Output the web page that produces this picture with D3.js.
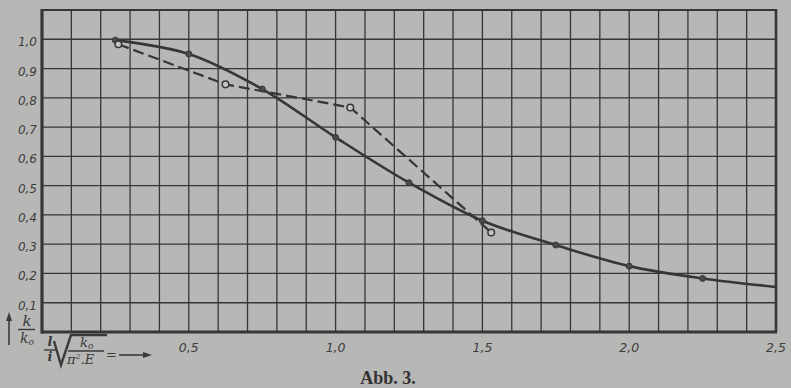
<!DOCTYPE html>
<html>
<head>
<meta charset="utf-8">
<script src="https://cdn.jsdelivr.net/npm/d3@7"></script>
<style>
  body { margin:0; background:#b7b7b5; }
  svg { display:block; }
</style>
</head>
<body>
<script>
const width = 791;
const height = 388;
const margin = {top:10, right:15, bottom:56, left:42};

// solid curve, filled dots
const solidX = [0.25, 0.5, 0.75, 1.0, 1.25, 1.5, 1.75, 2.0, 2.25];
const solidY = [0.997, 0.95, 0.83, 0.665, 0.51, 0.38, 0.297, 0.225, 0.183];
// the curve runs on to the right edge without a dot
const solidEndX = 2.5;
const solidEndY = 0.154;

// dashed line, open circles
const dashX = [0.26, 0.625, 1.05, 1.53];
const dashY = [0.983, 0.846, 0.767, 0.34];

const xTicks = [0.5, 1.0, 1.5, 2.0, 2.5];
const yTicks = [0.1, 0.2, 0.3, 0.4, 0.5, 0.6, 0.7, 0.8, 0.9, 1.0];

const ink = "#363636";
const fmt = d => d3.format(".1f")(d).replace(".", ",");

const svg = d3.select("body").append("svg")
.attr("width",width)
.attr("height",height);

svg.append("rect")
.attr("width",width)
.attr("height",height)
.attr("fill","#b7b7b5");

const x = d3.scaleLinear().domain([0,2.5]).range([margin.left,width-margin.right]);
const y = d3.scaleLinear().domain([0,1.1]).range([height-margin.bottom,margin.top]);

// grid, every 0.1
const grid = svg.append("g").attr("class","grid");
grid.selectAll(".vline")
.data(d3.range(1,25).map(i=>i/10))
.join("line")
.attr("class","vline")
.attr("x1",d=>x(d)).attr("x2",d=>x(d))
.attr("y1",y(1.1)).attr("y2",y(0))
.attr("stroke",ink).attr("stroke-width",1.3);

grid.selectAll(".hline")
.data(d3.range(1,11).map(i=>i/10))
.join("line")
.attr("class","hline")
.attr("x1",x(0)).attr("x2",x(2.5))
.attr("y1",d=>y(d)).attr("y2",d=>y(d))
.attr("stroke",ink).attr("stroke-width",1.3);

// frame
svg.append("line").attr("x1",x(0)).attr("x2",x(2.5)).attr("y1",y(1.1)).attr("y2",y(1.1))
.attr("stroke",ink).attr("stroke-width",2.2);
svg.append("line").attr("x1",x(2.5)).attr("x2",x(2.5)).attr("y1",y(1.1)-1).attr("y2",y(0))
.attr("stroke",ink).attr("stroke-width",2.6);
svg.append("line").attr("x1",x(0)-1).attr("x2",x(2.5)+1).attr("y1",y(0)).attr("y2",y(0))
.attr("stroke",ink).attr("stroke-width",3.2);
svg.append("line").attr("x1",x(0)).attr("x2",x(0)).attr("y1",y(1.1)-1).attr("y2",y(0)+1.5)
.attr("stroke",ink).attr("stroke-width",3.2);

// tick labels
svg.append("g").selectAll("text")
.data(yTicks)
.join("text")
.attr("x",x(0)-5)
.attr("y",d=>y(d)+7)
.attr("text-anchor","end")
.attr("font-family","DejaVu Sans, sans-serif")
.attr("font-style","italic")
.attr("font-size","12px")
.attr("fill","#3e3e3e")
.text(fmt);

svg.append("g").selectAll("text")
.data(xTicks)
.join("text")
.attr("x",d=>x(d))
.attr("y",y(0)+20)
.attr("text-anchor","middle")
.attr("font-family","DejaVu Sans, sans-serif")
.attr("font-style","italic")
.attr("font-size","12.5px")
.attr("fill","#3e3e3e")
.text(fmt);

// solid curve
const solidPts = solidX.map((d,i)=>[d, solidY[i]]).concat([[solidEndX, solidEndY]]);
const solidLine = d3.line().x(d=>x(d[0])).y(d=>y(d[1])).curve(d3.curveCatmullRom.alpha(0.5));
svg.append("path")
.attr("d",solidLine(solidPts))
.attr("fill","none")
.attr("stroke",ink)
.attr("stroke-width",2.6);

// dashed line
const dashPts = dashX.map((d,i)=>[d, dashY[i]]);
const dashLine = d3.line().x(d=>x(d[0])).y(d=>y(d[1]));
svg.append("path")
.attr("d",dashLine(dashPts))
.attr("fill","none")
.attr("stroke",ink)
.attr("stroke-width",2.2)
.attr("stroke-dasharray","11,5");

svg.append("g").selectAll("circle")
.data(solidX.map((d,i)=>[d, solidY[i]]))
.join("circle")
.attr("cx",d=>x(d[0]))
.attr("cy",d=>y(d[1]))
.attr("r",3)
.attr("fill","#4a4a4a")
.attr("stroke",ink)
.attr("stroke-width",1);

svg.append("g").selectAll("circle")
.data(dashPts)
.join("circle")
.attr("cx",d=>x(d[0]))
.attr("cy",d=>y(d[1]))
.attr("r",3.3)
.attr("fill","#c4c4c2")
.attr("stroke",ink)
.attr("stroke-width",1.5);

// y axis label k/k0 with arrow
const lab = svg.append("g").attr("fill","#3a3a3a").attr("font-family","DejaVu Serif, serif").attr("font-style","italic");
lab.append("line").attr("x1",9).attr("x2",9).attr("y1",345).attr("y2",317)
.attr("stroke","#3a3a3a").attr("stroke-width",1.6);
lab.append("path").attr("d","M9,312 L6,321 L12,321 Z");
lab.append("text").attr("x",27).attr("y",326).attr("text-anchor","middle").attr("font-size","15px").text("k");
lab.append("line").attr("x1",18).attr("x2",35).attr("y1",329.5).attr("y2",329.5)
.attr("stroke","#3a3a3a").attr("stroke-width",1.4);
const k0 = lab.append("text").attr("x",20).attr("y",343).attr("font-size","14px");
k0.append("tspan").text("k");
k0.append("tspan").attr("font-size","9px").attr("dy",2).text("o");

// x axis label  l/i sqrt(k0 / (pi^2 . E)) = --->
lab.append("text").attr("x",50).attr("y",346).attr("text-anchor","middle").attr("font-size","13px").attr("font-weight","bold").text("l");
lab.append("line").attr("x1",44).attr("x2",56).attr("y1",350).attr("y2",350)
.attr("stroke","#3a3a3a").attr("stroke-width",1.4);
lab.append("text").attr("x",50).attr("y",361).attr("text-anchor","middle").attr("font-size","13px").attr("font-weight","bold").text("i");
lab.append("path").attr("d","M54,341 L61,365 L71,335 L107,335")
.attr("fill","none").attr("stroke","#3a3a3a").attr("stroke-width",2.4);
const k0b = lab.append("text").attr("x",80).attr("y",347).attr("font-size","13px");
k0b.append("tspan").text("k");
k0b.append("tspan").attr("font-size","9px").attr("dy",2).text("o");
lab.append("line").attr("x1",68).attr("x2",104).attr("y1",351).attr("y2",351)
.attr("stroke","#3a3a3a").attr("stroke-width",1.3);
const pe = lab.append("text").attr("x",67).attr("y",364).attr("font-size","13px");
pe.append("tspan").text("π");
pe.append("tspan").attr("font-size","8px").attr("dy",-5).text("2");
pe.append("tspan").attr("dy",5).text(".E");
lab.append("text").attr("x",106).attr("y",359).attr("font-size","13px").attr("font-style","normal").text("=");
lab.append("line").attr("x1",119).attr("x2",146).attr("y1",355).attr("y2",355)
.attr("stroke","#3a3a3a").attr("stroke-width",1.6);
lab.append("path").attr("d","M152,355 L143,352 L143,358 Z");

// caption
svg.append("text")
.attr("x",388)
.attr("y",384)
.attr("text-anchor","middle")
.attr("font-family","Liberation Serif, serif")
.attr("font-weight","bold")
.attr("font-size","18px")
.attr("fill","#333")
.text("Abb. 3.");
</script>
</body>
</html>
